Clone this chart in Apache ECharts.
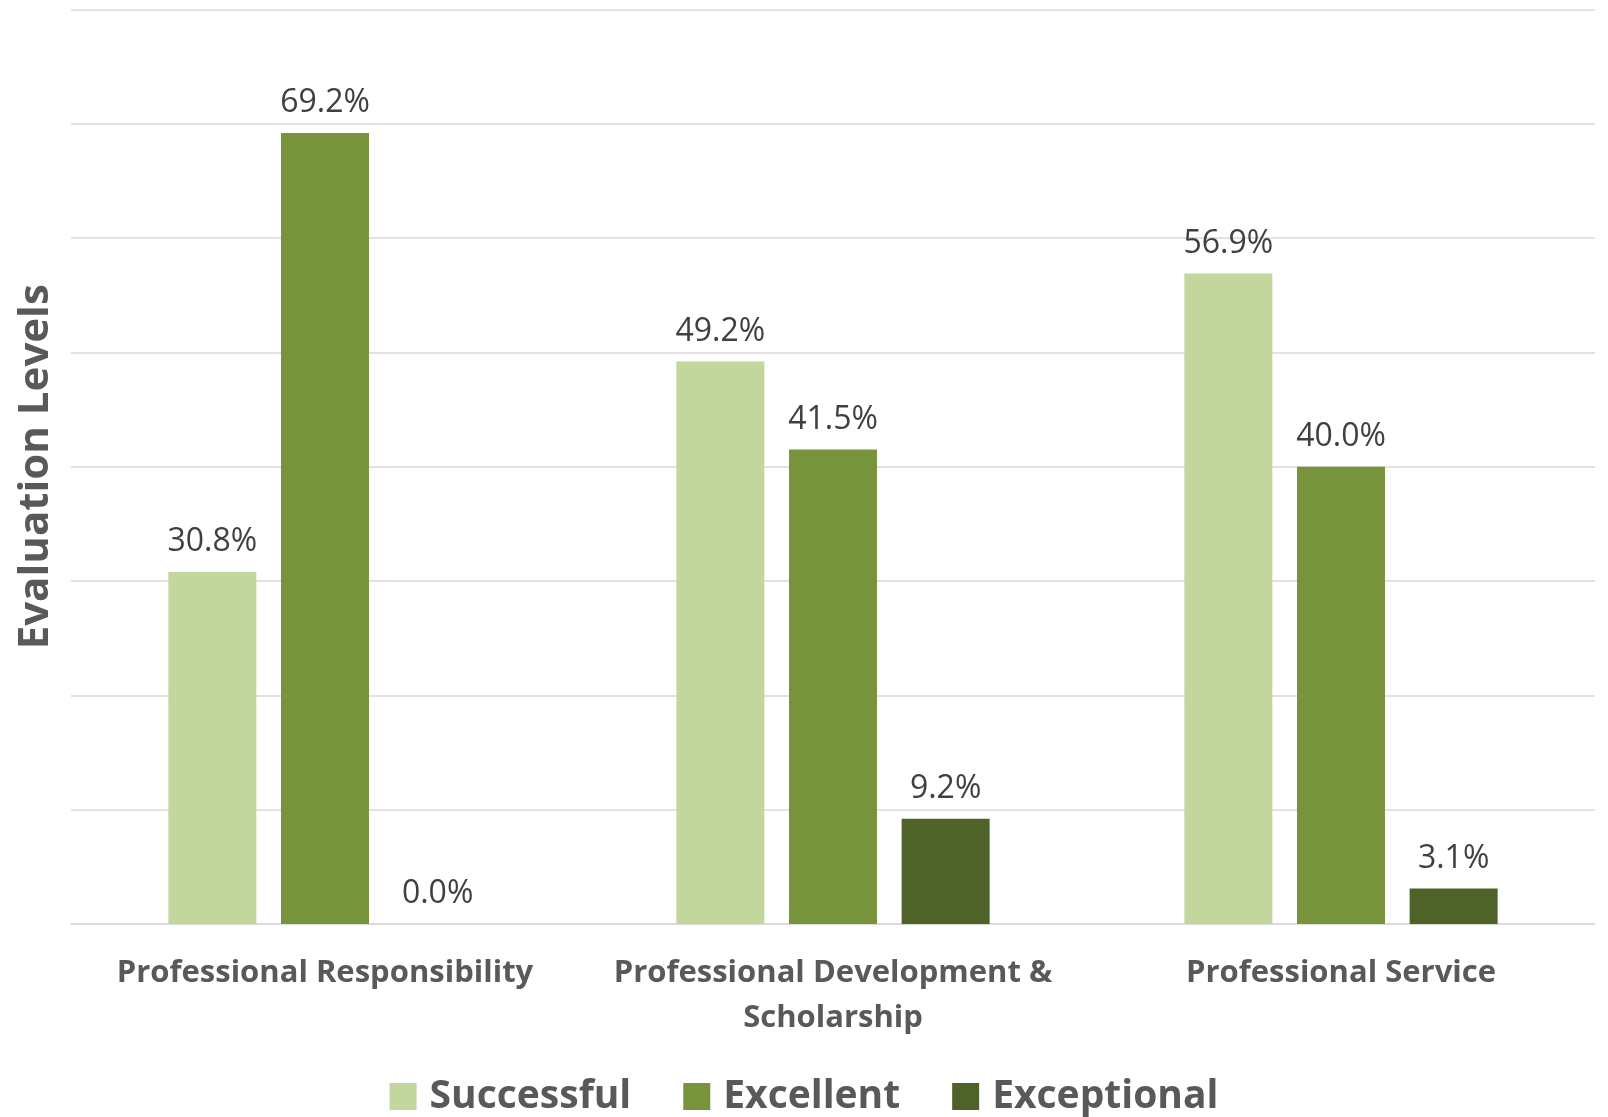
<!DOCTYPE html>
<html>
<head>
<meta charset="utf-8">
<script src="https://cdn.jsdelivr.net/npm/echarts@6/dist/echarts.min.js"></script>
<style>
  html, body { margin: 0; padding: 0; background: #fff; }
  #chart { width: 1608px; height: 1117px; }
</style>
</head>
<body>
<div id="chart"></div>
<script>
// categories and series values (percent)
const categories = [
  "Professional Responsibility",
  "Professional Development &\nScholarship",
  "Professional Service"
];
const seriesNames = ["Successful", "Excellent", "Exceptional"];
const successful = [30.8, 49.2, 56.9];
const excellent = [69.2, 41.5, 40.0];
const exceptional = [0.0, 9.2, 3.1];
const colors = ["#C3D69B", "#77933C", "#4F6228"];

const chart = echarts.init(document.getElementById("chart"));

const labelStyle = {
  show: true,
  position: "top",
  distance: 14,
  fontFamily: "Open Sans",
  fontSize: 32,
  color: "#404040",
  formatter: (p) => p.value.toFixed(1) + "%"
};

function makeSeries(name, data, i) {
  return {
    name: name,
    type: "bar",
    data: data,
    barWidth: 88,
    barGap: "28%",
    itemStyle: { color: colors[i] },
    label: labelStyle
  };
}

chart.setOption({
  animation: false,
  grid: {
    left: 71, right: 13, top: 9.5, bottom: 193,
    containLabel: false,
    outerBoundsMode: "none"
  },
  legend: {
    data: seriesNames,
    left: "center",
    bottom: -4,
    icon: "rect",
    itemWidth: 27,
    itemHeight: 27,
    itemGap: 52,
    textStyle: {
      fontFamily: "Open Sans",
      fontWeight: "bold",
      fontSize: 39,
      color: "#595959",
      padding: [0, 0, 0, 8]
    }
  },
  xAxis: {
    type: "category",
    data: categories,
    axisTick: { show: false },
    axisLine: { lineStyle: { color: "#D9D9D9", width: 1.5 } },
    axisLabel: {
      margin: 27,
      interval: 0,
      fontFamily: "Open Sans",
      fontWeight: "bold",
      fontSize: 31,
      lineHeight: 45,
      color: "#595959"
    }
  },
  yAxis: {
    type: "value",
    min: 0,
    max: 80,
    interval: 10,
    name: "Evaluation Levels",
    nameLocation: "middle",
    nameGap: 14,
    nameTextStyle: {
      fontFamily: "Open Sans",
      fontWeight: "bold",
      fontSize: 42,
      color: "#595959"
    },
    axisLabel: { show: false },
    axisLine: { show: false },
    axisTick: { show: false },
    splitLine: { lineStyle: { color: "#D9D9D9", width: 1.5 } }
  },
  series: [
    makeSeries(seriesNames[0], successful, 0),
    makeSeries(seriesNames[1], excellent, 1),
    makeSeries(seriesNames[2], exceptional, 2)
  ]
});
</script>
</body>
</html>
